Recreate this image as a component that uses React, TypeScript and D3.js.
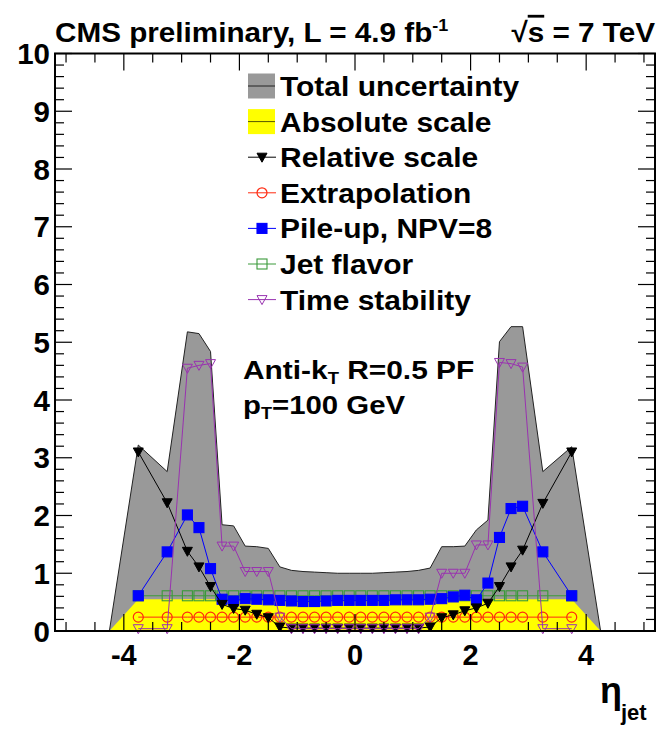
import React from 'react';
import * as d3 from 'd3';

// ---------- data ----------
const BAND_ETA = [-4.25, -3.75, -3.25, -2.9, -2.7, -2.5, -2.3, -2.1, -1.9, -1.7, -1.5, -1.3, -1.1, -0.9, -0.7, -0.5, -0.3, -0.1,
  0.1, 0.3, 0.5, 0.7, 0.9, 1.1, 1.3, 1.5, 1.7, 1.9, 2.1, 2.3, 2.5, 2.7, 2.9, 3.25, 3.75, 4.25];
const TOTAL = [0, 3.22, 2.76, 5.18, 5.15, 4.84, 1.84, 1.82, 1.47, 1.46, 1.43, 1.11, 1.05, 1.03, 1.02, 1.01, 1.0, 1.0,
  1.0, 1.0, 1.01, 1.02, 1.03, 1.05, 1.09, 1.46, 1.46, 1.47, 1.75, 1.92, 5.01, 5.27, 5.27, 2.76, 3.19, 0];
const ABSOLUTE = [0, 0.55, 0.55, 0.55, 0.55, 0.55, 0.55, 0.55, 0.55, 0.55, 0.55, 0.55, 0.55, 0.55, 0.55, 0.55, 0.55, 0.55,
  0.55, 0.55, 0.55, 0.55, 0.55, 0.55, 0.55, 0.55, 0.55, 0.55, 0.55, 0.55, 0.55, 0.55, 0.55, 0.55, 0.55, 0];

const MARKER_ETA = [-3.75, -3.25, -2.9, -2.7, -2.5, -2.3, -2.1, -1.9, -1.7, -1.5, -1.3, -1.1, -0.9, -0.7, -0.5, -0.3, -0.1,
  0.1, 0.3, 0.5, 0.7, 0.9, 1.1, 1.3, 1.5, 1.7, 1.9, 2.1, 2.3, 2.5, 2.7, 2.9, 3.25, 3.75];
const RELATIVE = [3.1, 2.22, 1.38, 1.11, 0.77, 0.46, 0.39, 0.36, 0.29, 0.23, 0.07, 0.05, 0.05, 0.05, 0.05, 0.05, 0.05,
  0.05, 0.05, 0.05, 0.05, 0.05, 0.05, 0.07, 0.23, 0.28, 0.35, 0.4, 0.48, 0.77, 1.11, 1.4, 2.21, 3.1];
const EXTRAPOLATION = [0.24, 0.24, 0.24, 0.24, 0.24, 0.24, 0.24, 0.24, 0.24, 0.24, 0.24, 0.24, 0.24, 0.24, 0.24, 0.24, 0.24,
  0.24, 0.24, 0.24, 0.24, 0.24, 0.24, 0.24, 0.24, 0.24, 0.24, 0.24, 0.24, 0.24, 0.24, 0.24, 0.24, 0.24];
const PILEUP = [0.61, 1.37, 2.01, 1.79, 1.08, 0.55, 0.52, 0.56, 0.55, 0.54, 0.53, 0.52, 0.51, 0.51, 0.52, 0.53, 0.53,
  0.53, 0.53, 0.53, 0.54, 0.54, 0.54, 0.55, 0.56, 0.59, 0.62, 0.54, 0.83, 1.62, 2.12, 2.16, 1.37, 0.61];
const FLAVOR = [0.61, 0.61, 0.61, 0.61, 0.61, 0.61, 0.61, 0.61, 0.61, 0.61, 0.61, 0.61, 0.61, 0.61, 0.61, 0.61, 0.61,
  0.61, 0.61, 0.61, 0.61, 0.61, 0.61, 0.61, 0.61, 0.61, 0.61, 0.61, 0.61, 0.61, 0.61, 0.61, 0.61, 0.61];
const TIME = [0.04, 0.04, 4.55, 4.6, 4.63, 1.47, 1.47, 1.03, 1.03, 1.03, 0.24, 0.04, 0.04, 0.04, 0.04, 0.04, 0.04,
  0.04, 0.04, 0.04, 0.04, 0.04, 0.04, 0.24, 1.0, 1.0, 1.0, 1.49, 1.49, 4.65, 4.63, 4.57, 0.04, 0.04];

const X_MAJOR = [-4, -2, 0, 2, 4];
const Y_MAJOR = [0, 1, 2, 3, 4, 5, 6, 7, 8, 9, 10];
const LEGEND_LABELS = ['Total uncertainty', 'Absolute scale', 'Relative scale', 'Extrapolation', 'Pile-up, NPV=8', 'Jet flavor', 'Time stability'];

const FONT = "'Liberation Sans', Arial, Helvetica, sans-serif";
const GRAY = '#999999';
const YELLOW = '#ffff00';

type MarkerKind = 'tri' | 'otri' | 'ocirc' | 'sq' | 'osq';

function Marker({ kind, cx, cy, color }: { kind: MarkerKind; cx: number; cy: number; color: string }) {
  const s = 5;
  if (kind === 'tri' || kind === 'otri') {
    const d = `M${cx - s},${cy - s * 0.8}L${cx + s},${cy - s * 0.8}L${cx},${cy + s}Z`;
    return <path d={d} fill={kind === 'tri' ? color : 'none'} stroke={color} strokeWidth={1} />;
  }
  if (kind === 'ocirc') return <circle cx={cx} cy={cy} r={s} fill="none" stroke={color} strokeWidth={1.2} />;
  return <rect x={cx - s} y={cy - s} width={2 * s} height={2 * s} fill={kind === 'sq' ? color : 'none'} stroke={color} strokeWidth={1.1} />;
}

export default function App() {
  const W = 664, H = 729;
  const L = 55, R = 655, T = 53.5, B = 631;
  const x = d3.scaleLinear().domain([-5.191, 5.191]).range([L, R]);
  const y = d3.scaleLinear().domain([0, 10]).range([B, T]);

  const bandArea = (vals: number[]) =>
    d3.area<number>().x((_, i) => x(BAND_ETA[i])).y0(y(0)).y1((d) => y(d))(vals) || '';
  const bandTop = (vals: number[]) =>
    d3.line<number>().x((_, i) => x(BAND_ETA[i])).y((d) => y(d))(vals) || '';
  const markerLine = d3.line<number>().x((_, i) => x(MARKER_ETA[i])).y((d) => y(d));

  const series: { vals: number[]; color: string; kind: MarkerKind }[] = [
    { vals: EXTRAPOLATION, color: '#ff2a10', kind: 'ocirc' },
    { vals: FLAVOR, color: '#3a9a3a', kind: 'osq' },
    { vals: PILEUP, color: '#0000ff', kind: 'sq' },
    { vals: RELATIVE, color: '#000000', kind: 'tri' },
    { vals: TIME, color: '#9932b0', kind: 'otri' },
  ];
  const legendMarkers: { color: string; kind: MarkerKind }[] = [
    { color: '#000000', kind: 'tri' },
    { color: '#ff2a10', kind: 'ocirc' },
    { color: '#0000ff', kind: 'sq' },
    { color: '#3a9a3a', kind: 'osq' },
    { color: '#9932b0', kind: 'otri' },
  ];

  const xMinor = d3.range(-5, 5.01, 0.5);
  const yMinor = d3.range(0, 10.001, 0.2);
  const MAJ = 17, MIN = 9;

  const legY = (i: number) => 86 + i * 35.6;

  return (
    <svg width={W} height={H} style={{ position: 'absolute', left: 0, top: 0, background: '#fff' }} fontFamily={FONT}>
      <rect x={0} y={0} width={W} height={H} fill="#fff" />
      {/* bands */}
      <path d={bandArea(TOTAL)} fill={GRAY} />
      <path d={bandTop(TOTAL)} fill="none" stroke="#222" strokeWidth={1} />
      <path d={bandArea(ABSOLUTE)} fill={YELLOW} />

      {/* marker series */}
      {series.map((s, si) => (
        <g key={si}>
          <path d={markerLine(s.vals) || ''} fill="none" stroke={s.color} strokeWidth={1} />
          {s.vals.map((v, i) => (
            <Marker key={i} kind={s.kind} cx={x(MARKER_ETA[i])} cy={y(v)} color={s.color} />
          ))}
        </g>
      ))}

      {/* frame & ticks */}
      <rect x={L} y={T} width={R - L} height={B - T} fill="none" stroke="#000" strokeWidth={2} />
      {xMinor.map((t, i) => {
        const major = X_MAJOR.includes(t);
        const len = major ? MAJ : MIN;
        return (
          <g key={'xm' + i}>
            <line x1={x(t)} x2={x(t)} y1={B} y2={B - len} stroke="#000" strokeWidth={1.2} />
            <line x1={x(t)} x2={x(t)} y1={T} y2={T + len} stroke="#000" strokeWidth={1.2} />
          </g>
        );
      })}
      {yMinor.map((t, i) => {
        const major = Math.abs(t - Math.round(t)) < 1e-6;
        const len = major ? MAJ : MIN;
        return (
          <g key={'ym' + i}>
            <line x1={L} x2={L + len} y1={y(t)} y2={y(t)} stroke="#000" strokeWidth={1.2} />
            <line x1={R} x2={R - len} y1={y(t)} y2={y(t)} stroke="#000" strokeWidth={1.2} />
          </g>
        );
      })}
      {Y_MAJOR.map((t) => (
        <text key={'yl' + t} x={50} y={y(t) + 10.5} textAnchor="end" fontSize={29.5} fontWeight="bold">{t}</text>
      ))}
      {X_MAJOR.map((t) => (
        <text key={'xl' + t} x={x(t)} y={665} textAnchor="middle" fontSize={29} fontWeight="bold">{t}</text>
      ))}

      {/* axis title */}
      <text x={600} y={703} fontSize={36} fontWeight="bold">η</text>
      <text x={621} y={720} fontSize={22} fontWeight="bold">jet</text>

      {/* header */}
      <text transform={`translate(55,42) scale(1.06,1)`} fontSize={28} fontWeight="bold">
        CMS preliminary, L = 4.9 fb<tspan fontSize={17} dy={-11}>-1</tspan>
      </text>
      <text transform={`translate(655,42) scale(1.06,1)`} textAnchor="end" fontSize={28} fontWeight="bold">
        √<tspan style={{ textDecoration: 'overline' }}>s</tspan> = 7 TeV
      </text>

      {/* legend */}
      <rect x={248} y={legY(0) - 12.5} width={27} height={25} fill={GRAY} />
      <line x1={248} x2={275} y1={legY(0)} y2={legY(0)} stroke="#222" strokeWidth={1} />
      <rect x={248} y={legY(1) - 12.5} width={27} height={25} fill={YELLOW} />
      <line x1={248} x2={275} y1={legY(1)} y2={legY(1)} stroke="#555500" strokeWidth={1} />
      {legendMarkers.map((m, i) => (
        <g key={'lm' + i}>
          <line x1={248} x2={276} y1={legY(i + 2)} y2={legY(i + 2)} stroke={m.color} strokeWidth={1} />
          <Marker kind={m.kind} cx={262} cy={legY(i + 2)} color={m.color} />
        </g>
      ))}
      {LEGEND_LABELS.map((lab, i) => (
        <text key={'ll' + i} transform={`translate(280,${legY(i) + 10}) scale(1.07,1)`} fontSize={28} fontWeight="bold">{lab}</text>
      ))}

      {/* annotation */}
      <text transform="translate(243,379) scale(1.15,1)" fontSize={26} fontWeight="bold">
        Anti-k<tspan fontSize={16} dy={5}>T</tspan><tspan dy={-5}> R=0.5 PF</tspan>
      </text>
      <text transform="translate(243,414) scale(1.13,1)" fontSize={26} fontWeight="bold">
        p<tspan fontSize={16} dy={5}>T</tspan><tspan dy={-5}>=100 GeV</tspan>
      </text>
    </svg>
  );
}
